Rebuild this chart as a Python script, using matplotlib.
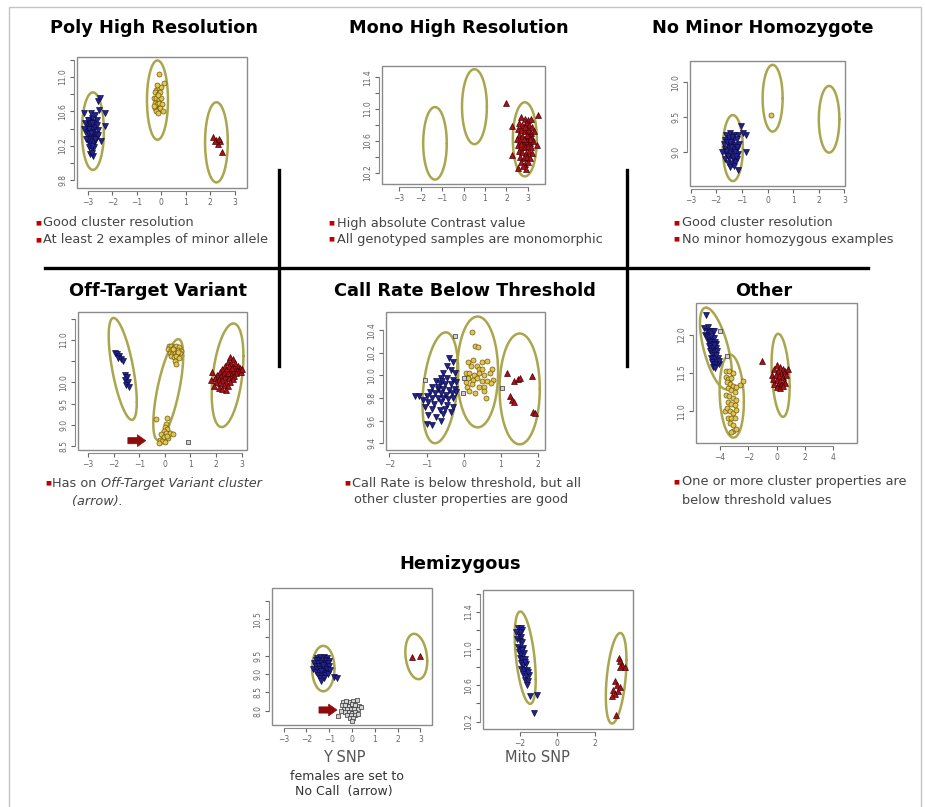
import numpy as np
import matplotlib
matplotlib.use("Agg")
import matplotlib.pyplot as plt
from matplotlib.patches import Rectangle
from matplotlib.lines import Line2D

# ---- cluster data (x = contrast, y = size) --------------------------------
poly_blue = [(-3.05, 10.45), (-2.95, 10.50), (-2.85, 10.52), (-2.75, 10.48), (-2.65, 10.50),
             (-3.10, 10.38), (-3.00, 10.40), (-2.90, 10.42), (-2.80, 10.40), (-2.70, 10.42),
             (-2.60, 10.38), (-3.05, 10.32), (-2.95, 10.34), (-2.85, 10.30), (-2.75, 10.33),
             (-2.65, 10.30), (-3.00, 10.26), (-2.90, 10.24), (-2.80, 10.22), (-2.70, 10.25),
             (-2.95, 10.18), (-2.85, 10.16), (-2.75, 10.18), (-2.90, 10.10), (-2.80, 10.08),
             (-2.85, 10.12), (-3.15, 10.58), (-3.18, 10.40), (-2.55, 10.62), (-2.60, 10.72),
             (-2.50, 10.75), (-2.30, 10.58), (-2.30, 10.43), (-2.45, 10.25), (-3.12, 10.46),
             (-2.72, 10.56), (-2.88, 10.58), (-2.98, 10.28), (-2.62, 10.44), (-2.78, 10.36),
             (-3.02, 10.50), (-2.92, 10.46), (-2.68, 10.34), (-2.82, 10.46), (-3.08, 10.28),
             (-2.95, 10.40), (-2.72, 10.28), (-2.88, 10.35), (-2.58, 10.32), (-2.82, 10.20)]
poly_yellow = [(-0.11, 11.03), (0.10, 10.93), (-0.20, 10.85), (-0.10, 10.87), (-0.25, 10.82),
               (-0.15, 10.80), (-0.05, 10.82), (-0.30, 10.76), (-0.20, 10.75), (-0.10, 10.74),
               (0.00, 10.76), (-0.28, 10.70), (-0.18, 10.68), (-0.08, 10.70), (0.02, 10.68),
               (-0.25, 10.64), (-0.15, 10.62), (-0.05, 10.64), (-0.22, 10.60), (-0.12, 10.58),
               (0.05, 10.60), (-0.30, 10.66), (-0.12, 10.79), (-0.02, 10.88), (-0.18, 10.90)]
poly_red = [(2.11, 10.30), (2.25, 10.27), (2.39, 10.25), (2.32, 10.22), (2.46, 10.13),
            (2.20, 10.26), (2.35, 10.28)]

mono_red = [(2.70, 10.90), (2.85, 10.88), (3.00, 10.86), (3.15, 10.88), (2.60, 10.82),
            (2.75, 10.80), (2.90, 10.82), (3.05, 10.80), (3.20, 10.78), (2.55, 10.75),
            (2.70, 10.74), (2.85, 10.72), (3.00, 10.74), (3.15, 10.70), (3.30, 10.72),
            (2.60, 10.68), (2.75, 10.66), (2.90, 10.64), (3.05, 10.66), (3.20, 10.64),
            (2.50, 10.62), (2.65, 10.60), (2.80, 10.58), (2.95, 10.60), (3.10, 10.58),
            (3.25, 10.60), (2.55, 10.55), (2.70, 10.53), (2.85, 10.52), (3.00, 10.54),
            (3.15, 10.52), (2.60, 10.48), (2.75, 10.46), (2.90, 10.45), (3.05, 10.47),
            (3.20, 10.45), (2.65, 10.40), (2.80, 10.38), (2.95, 10.40), (3.10, 10.38),
            (2.70, 10.33), (2.85, 10.31), (3.00, 10.33), (2.78, 10.28), (2.92, 10.25),
            (2.82, 10.62), (2.95, 10.68), (2.68, 10.56), (3.08, 10.62), (2.88, 10.77),
            (1.98, 11.07), (3.47, 10.93), (2.26, 10.43), (2.53, 10.26), (2.24, 10.79),
            (3.42, 10.55)]

nominor_blue = [(-1.60, 9.25), (-1.45, 9.27), (-1.30, 9.25), (-1.15, 9.24), (-1.65, 9.18),
                (-1.50, 9.20), (-1.35, 9.18), (-1.20, 9.19), (-1.70, 9.12), (-1.55, 9.12),
                (-1.40, 9.13), (-1.25, 9.11), (-1.10, 9.12), (-1.65, 9.05), (-1.50, 9.06),
                (-1.35, 9.04), (-1.20, 9.05), (-1.60, 8.98), (-1.45, 8.99), (-1.30, 8.97),
                (-1.15, 8.98), (-1.65, 8.91), (-1.50, 8.92), (-1.35, 8.90), (-1.20, 8.91),
                (-1.55, 8.85), (-1.40, 8.84), (-1.25, 8.86), (-1.45, 8.79), (-1.30, 8.80),
                (-1.58, 9.15), (-1.42, 9.08), (-1.28, 9.01), (-1.52, 8.95), (-1.38, 9.22),
                (-1.18, 9.08), (-1.62, 9.02), (-1.33, 8.93), (-1.48, 9.14), (-1.22, 8.95),
                (-1.05, 9.38), (-0.85, 9.25), (-0.82, 9.01), (-1.16, 8.75), (-0.95, 9.28),
                (-1.78, 9.00)]
nominor_yellow = [(0.15, 9.53)]

offtarget_blue = [(-1.95, 10.70), (-1.88, 10.68), (-1.80, 10.62), (-1.85, 10.58), (-1.72, 10.55),
                  (-1.65, 10.50), (-1.58, 10.17), (-1.50, 10.12), (-1.55, 10.05), (-1.45, 10.00),
                  (-1.52, 9.95), (-1.42, 9.90)]
offtarget_yellow = [(0.15, 10.85), (0.25, 10.87), (0.35, 10.84), (0.45, 10.86), (0.55, 10.83),
                    (0.12, 10.78), (0.22, 10.76), (0.32, 10.78), (0.42, 10.75), (0.52, 10.77),
                    (0.62, 10.74), (0.18, 10.70), (0.28, 10.68), (0.38, 10.70), (0.48, 10.67),
                    (0.58, 10.69), (0.25, 10.62), (0.35, 10.60), (0.45, 10.62), (0.55, 10.58),
                    (0.40, 10.50), (0.45, 10.44), (0.30, 10.80), (0.50, 10.72),
                    # the off-target group near the bottom
                    (-0.35, 9.15), (0.08, 9.17), (0.05, 9.02), (0.00, 8.95), (0.10, 8.90),
                    (-0.05, 8.85), (0.05, 8.82), (0.20, 8.80), (0.30, 8.78), (-0.15, 8.78),
                    (-0.05, 8.72), (0.12, 8.70), (-0.20, 8.65), (-0.10, 8.62), (0.00, 8.60),
                    (-0.25, 8.58), (0.08, 8.75)]
offtarget_nocall = [(0.90, 8.60)]
offtarget_red = [(2.55, 10.60), (2.65, 10.55), (2.45, 10.48), (2.60, 10.45), (2.75, 10.45),
                 (2.85, 10.40), (2.95, 10.35), (2.35, 10.40), (2.50, 10.38), (2.70, 10.35),
                 (2.80, 10.30), (2.90, 10.28), (2.25, 10.32), (2.40, 10.30), (2.55, 10.28),
                 (2.65, 10.25), (2.78, 10.22), (2.15, 10.25), (2.30, 10.22), (2.45, 10.20),
                 (2.60, 10.18), (2.72, 10.15), (1.85, 10.25), (2.05, 10.18), (2.20, 10.15),
                 (2.35, 10.12), (2.50, 10.10), (2.65, 10.08), (1.95, 10.10), (2.10, 10.08),
                 (2.25, 10.05), (2.40, 10.02), (2.55, 10.00), (2.00, 10.02), (2.15, 9.98),
                 (2.30, 9.95), (2.45, 9.92), (2.10, 9.88), (2.25, 9.85), (1.90, 9.92),
                 (2.38, 9.82), (2.98, 10.25), (3.00, 10.32), (1.82, 10.05), (2.62, 10.35),
                 (2.48, 10.22)]

callrate_blue = [(-0.40, 10.15), (-0.30, 10.12), (-0.45, 10.08), (-0.35, 10.05), (-0.55, 10.02),
                 (-0.25, 10.02), (-0.60, 9.98), (-0.45, 9.98), (-0.30, 9.96), (-0.75, 9.95),
                 (-0.65, 9.93), (-0.50, 9.92), (-0.35, 9.92), (-0.20, 9.94), (-0.85, 9.90),
                 (-0.70, 9.88), (-0.55, 9.88), (-0.40, 9.87), (-0.25, 9.88), (-0.90, 9.85),
                 (-0.78, 9.84), (-0.62, 9.84), (-0.48, 9.83), (-0.33, 9.84), (-0.20, 9.85),
                 (-1.00, 9.82), (-0.85, 9.80), (-0.70, 9.80), (-0.55, 9.80), (-0.42, 9.79),
                 (-0.28, 9.80), (-1.20, 9.82), (-1.30, 9.82), (-1.10, 9.78), (-0.95, 9.76),
                 (-0.80, 9.75), (-0.60, 9.76), (-0.45, 9.74), (-0.30, 9.72), (-1.05, 9.72),
                 (-0.85, 9.70), (-0.65, 9.69), (-0.50, 9.70), (-0.35, 9.68), (-0.95, 9.65),
                 (-0.75, 9.63), (-0.55, 9.66), (-0.60, 9.60), (-0.85, 9.56), (-1.00, 9.57),
                 (-0.70, 9.90), (-0.58, 9.95)]
callrate_yellow = [(0.22, 10.38), (0.30, 10.26), (0.38, 10.25), (0.10, 10.12), (0.25, 10.14),
                   (0.48, 10.12), (0.62, 10.13), (0.20, 10.08), (0.35, 10.08), (0.42, 10.06),
                   (0.50, 10.06), (0.75, 10.06), (0.05, 10.02), (0.15, 10.02), (0.28, 10.00),
                   (0.40, 10.02), (0.55, 10.00), (0.70, 10.02), (0.12, 9.98), (0.25, 9.96),
                   (0.35, 9.98), (0.48, 9.95), (0.62, 9.95), (0.78, 9.96), (0.08, 9.90),
                   (0.22, 9.92), (0.40, 9.90), (0.55, 9.90), (0.72, 9.93), (0.15, 9.86),
                   (0.30, 9.84), (0.55, 9.86), (0.05, 9.94), (0.60, 9.80), (0.10, 9.98)]
callrate_red = [(1.15, 10.02), (1.35, 9.95), (1.45, 9.97), (1.52, 9.98), (1.82, 9.99),
                (1.25, 9.82), (1.30, 9.78), (1.35, 9.76), (1.85, 9.68), (1.90, 9.67)]
callrate_nocall = [(-0.23, 10.35), (-1.04, 9.96), (0.00, 9.98), (-0.02, 9.84), (1.03, 9.89)]

other_blue = [(-5.00, 12.25), (-5.10, 12.08), (-4.95, 12.05), (-4.80, 12.05), (-4.60, 12.05),
              (-4.40, 12.04), (-5.05, 12.00), (-4.90, 11.98), (-4.75, 11.97), (-4.55, 11.96),
              (-4.40, 11.95), (-4.85, 11.92), (-4.70, 11.90), (-4.55, 11.88), (-4.35, 11.90),
              (-4.25, 11.88), (-4.80, 11.85), (-4.65, 11.83), (-4.50, 11.82), (-4.30, 11.83),
              (-4.70, 11.78), (-4.55, 11.76), (-4.40, 11.76), (-4.20, 11.78), (-4.65, 11.70),
              (-4.50, 11.70), (-4.35, 11.68), (-4.15, 11.70), (-4.60, 11.64), (-4.45, 11.62),
              (-4.30, 11.62), (-4.50, 11.58), (-4.35, 11.57), (-4.05, 11.62), (-4.10, 11.66),
              (-4.25, 11.74), (-4.45, 11.86), (-4.62, 11.98), (-4.85, 12.10)]
other_yellow = [(-3.55, 11.52), (-3.35, 11.52), (-3.10, 11.50), (-3.60, 11.45), (-3.40, 11.42),
                (-3.20, 11.44), (-2.40, 11.40), (-2.55, 11.35), (-3.50, 11.38), (-3.30, 11.36),
                (-3.10, 11.33), (-3.45, 11.30), (-3.20, 11.28), (-2.95, 11.25), (-2.85, 11.32),
                (-3.55, 11.22), (-3.35, 11.20), (-3.10, 11.18), (-2.90, 11.15), (-3.40, 11.12),
                (-3.20, 11.10), (-2.95, 11.08), (-3.65, 11.00), (-3.50, 11.05), (-3.30, 11.00),
                (-3.10, 10.98), (-2.85, 11.02), (-3.40, 10.92), (-3.20, 10.92), (-2.95, 10.92),
                (-3.30, 10.85), (-3.10, 10.83), (-3.05, 10.75), (-2.90, 10.77), (-3.20, 10.73)]
other_red = [(-1.04, 11.65), (0.00, 11.60), (0.25, 11.58), (0.45, 11.55), (-0.20, 11.55),
             (0.10, 11.52), (0.35, 11.50), (0.60, 11.52), (-0.30, 11.48), (-0.05, 11.47),
             (0.20, 11.46), (0.45, 11.45), (0.70, 11.47), (-0.25, 11.42), (0.00, 11.41),
             (0.25, 11.40), (0.50, 11.40), (-0.15, 11.36), (0.10, 11.35), (0.35, 11.35),
             (0.60, 11.37), (0.00, 11.32), (0.25, 11.31), (0.45, 11.33), (0.80, 11.55)]
other_nocall = [(-3.50, 11.72), (-4.00, 12.05)]

ysnp_blue = [(-1.55, 9.45), (-1.40, 9.47), (-1.25, 9.46), (-1.10, 9.45), (-1.60, 9.38),
             (-1.45, 9.38), (-1.30, 9.37), (-1.15, 9.38), (-1.00, 9.36), (-1.65, 9.30),
             (-1.50, 9.29), (-1.35, 9.30), (-1.20, 9.28), (-1.05, 9.30), (-1.60, 9.22),
             (-1.45, 9.21), (-1.30, 9.22), (-1.15, 9.20), (-1.00, 9.21), (-1.70, 9.14),
             (-1.55, 9.13), (-1.40, 9.14), (-1.25, 9.12), (-1.10, 9.13), (-1.60, 9.06),
             (-1.45, 9.05), (-1.30, 9.06), (-1.15, 9.04), (-1.50, 8.98), (-1.35, 8.97),
             (-1.20, 8.98), (-1.05, 8.99), (-1.40, 8.90), (-1.25, 8.89), (-1.35, 8.80),
             (-0.80, 8.92), (-0.65, 8.90), (-0.95, 9.10), (-1.28, 9.26), (-1.38, 9.09)]
ysnp_red = [(2.64, 9.47), (2.98, 9.50)]
ysnp_nocall = [(-0.40, 8.25), (-0.25, 8.27), (-0.10, 8.24), (0.05, 8.26), (0.20, 8.28),
               (-0.45, 8.15), (-0.30, 8.16), (-0.15, 8.14), (0.00, 8.17), (0.15, 8.15),
               (0.30, 8.13), (-0.35, 8.05), (-0.20, 8.06), (-0.05, 8.04), (0.10, 8.06),
               (0.25, 8.05), (0.38, 8.10), (-0.50, 7.98), (-0.30, 7.96), (-0.15, 7.97),
               (0.00, 7.95), (0.15, 7.96), (-0.20, 7.88), (-0.05, 7.87), (0.12, 7.88),
               (0.25, 7.90), (-0.10, 7.80), (0.05, 7.79), (0.00, 7.72), (-0.63, 7.85)]

mito_blue = [(-2.10, 11.22), (-1.95, 11.22), (-1.85, 11.20), (-2.05, 11.15), (-1.90, 11.13),
             (-2.15, 11.10), (-2.00, 11.08), (-1.85, 11.07), (-2.10, 11.02), (-1.95, 11.00),
             (-1.80, 11.01), (-2.05, 10.96), (-1.90, 10.94), (-1.75, 10.95), (-2.00, 10.90),
             (-1.85, 10.88), (-1.70, 10.89), (-1.95, 10.84), (-1.80, 10.82), (-1.65, 10.83),
             (-1.90, 10.78), (-1.75, 10.76), (-1.60, 10.77), (-1.80, 10.72), (-1.65, 10.70),
             (-1.50, 10.71), (-1.70, 10.66), (-1.55, 10.65), (-1.62, 10.60), (-1.85, 10.98),
             (-1.72, 10.85), (-1.98, 11.18), (-2.18, 11.18), (-1.58, 10.74),
             (-1.43, 10.48), (-1.08, 10.49), (-1.26, 10.29)]
mito_red = [(3.25, 10.90), (3.32, 10.86), (3.40, 10.82), (3.55, 10.80), (3.28, 10.80),
            (3.05, 10.64), (3.15, 10.60), (3.30, 10.58), (3.20, 10.54), (2.95, 10.55),
            (3.05, 10.50), (2.88, 10.48), (3.10, 10.27)]

# cluster ellipses: centre x, centre y, half width, half height, correlation
poly_ellipses = [(-2.80, 10.37, 0.45, 0.45, 0.0), (-0.16, 10.73, 0.43, 0.46, 0.0),
                 (2.25, 10.24, 0.465, 0.465, 0.0)]
mono_ellipses = [(-1.33, 10.57, 0.55, 0.455, 0.0), (0.51, 11.03, 0.58, 0.47, 0.0),
                 (2.86, 10.62, 0.56, 0.465, 0.0)]
nominor_ellipses = [(-1.35, 9.06, 0.39, 0.47, 0.0), (0.20, 9.77, 0.39, 0.475, 0.0),
                    (2.40, 9.47, 0.40, 0.475, 0.0)]
offtarget_ellipses = [(-1.65, 10.32, 0.55, 1.20, -0.65), (0.13, 9.83, 0.585, 1.19, 0.67),
                      (2.45, 10.17, 0.62, 1.22, 0.37)]
callrate_ellipses = [(-0.63, 9.89, 0.48, 0.49, 0.3), (0.37, 10.03, 0.55, 0.49, 0.0),
                     (1.50, 9.88, 0.54, 0.49, 0.0)]
other_ellipses = [(-4.29, 11.82, 1.13, 0.53, -0.62), (-3.17, 11.20, 0.86, 0.54, -0.14),
                  (0.29, 11.47, 0.64, 0.54, -0.27)]
ysnp_ellipses = [(-1.26, 9.15, 0.49, 0.62, 0.0), (2.82, 9.48, 0.48, 0.62, -0.2)]
mito_ellipses = [(-1.70, 10.90, 0.555, 0.505, -0.47), (3.10, 10.675, 0.545, 0.495, 0.4)]

W, H = 925, 807

BLUE, BLUE_EDGE = "#23238f", "#0b0b45"
YELLOW, YELLOW_EDGE = "#e2c54a", "#6a5818"
RED, RED_EDGE = "#ad0f1a", "#430000"
GRAY, GRAY_EDGE = "#d2d2d2", "#333333"
ELLIPSE = "#aaa64f"
BOX = "#8a8a8a"
TICK = "#666666"
TEXT = "#444444"
BULLET = "#c00000"
ARROW = "#8e0b0b"
BODY_SIZE = 9.3


def fx(x):
    return x / W


def fy(y):
    return 1 - y / H


def px_axes(fig, x0, y0, x1, y1):
    return fig.add_axes([x0 / W, 1 - y1 / H, (x1 - x0) / W, (y1 - y0) / H])


def fmt(v):
    s = f"{v:.1f}" if abs(v - round(v)) > 1e-9 or abs(v) > 5 else f"{int(round(v))}"
    return s.replace("-", "\u2212")


def style_axes(ax, xlim, ylim, xticks, yticks, ylabeled):
    ax.set_xlim(xlim)
    ax.set_ylim(ylim)
    ax.set_facecolor("white")
    ax.spines["top"].set_visible(False)
    ax.spines["right"].set_visible(False)
    for side in ("left", "bottom"):
        ax.spines[side].set_position(("outward", 2))
        ax.spines[side].set_color(BOX)
        ax.spines[side].set_linewidth(0.8)
    ax.spines["bottom"].set_bounds(xticks[0], xticks[-1])
    ax.spines["left"].set_bounds(yticks[0], yticks[-1])
    ax.add_patch(Rectangle((0, 0), 1, 1, transform=ax.transAxes, fill=False,
                           ec=BOX, lw=1.0, clip_on=False, zorder=6))
    ax.set_xticks(xticks)
    ax.set_xticklabels([fmt(t) for t in xticks])
    ax.set_yticks(yticks)
    ax.set_yticklabels([f"{t:.1f}" if any(abs(t - l) < 1e-6 for l in ylabeled) else ""
                        for t in yticks], rotation=90, va="center")
    ax.tick_params(length=3, width=0.8, color=TICK, labelcolor=TICK,
                   labelsize=5.5, pad=2)


def draw_ellipses(ax, ellipses):
    t = np.linspace(0, 2 * np.pi, 200)
    for cx, cy, sx, sy, r in ellipses:
        x = cx + sx * np.cos(t)
        y = cy + sy * (r * np.cos(t) + np.sqrt(1 - r * r) * np.sin(t))
        ax.plot(x, y, color=ELLIPSE, lw=1.8, zorder=2, solid_capstyle="round")


def draw_points(ax, pts, kind):
    pts = np.array(pts)
    styles = {
        "AA": dict(marker="v", c=BLUE, edgecolors=BLUE_EDGE, s=18),
        "AB": dict(marker="o", c=YELLOW, edgecolors=YELLOW_EDGE, s=13),
        "BB": dict(marker="^", c=RED, edgecolors=RED_EDGE, s=18),
        "NC": dict(marker="s", c=GRAY, edgecolors=GRAY_EDGE, s=10),
    }
    ax.scatter(pts[:, 0], pts[:, 1], linewidths=0.5, zorder=3, **styles[kind])


def call_arrow(ax, tail, tip):
    ax.annotate("", xy=tip, xytext=tail,
                arrowprops=dict(arrowstyle="simple,head_length=0.6,head_width=0.85,tail_width=0.45",
                                fc=ARROW, ec=ARROW, lw=0.5, shrinkA=0, shrinkB=0))


def bullet_lines(fig, x, lines, first_y, step):
    fig.text(fx(x), fy(first_y), "\u25a0", fontsize=4.5, color=BULLET, va="center", ha="left")
    for i, (dx, txt) in enumerate(lines):
        fig.text(fx(x + dx), fy(first_y + i * step), txt, fontsize=BODY_SIZE,
                 color=TEXT, va="center", ha="left")


fig = plt.figure(figsize=(W / 100, H / 100), dpi=100)
fig.patch.set_facecolor("white")

# page frame and section dividers
fig.add_artist(Rectangle((fx(9), fy(830)), fx(921 - 9), (830 - 7) / H,
                         fill=False, ec="#c4c4c4", lw=1.0, transform=fig.transFigure))
fig.add_artist(Line2D([fx(45), fx(868)], [fy(268), fy(268)], color="black", lw=2.4))
fig.add_artist(Line2D([fx(279), fx(279)], [fy(170), fy(366)], color="black", lw=2.4))
fig.add_artist(Line2D([fx(627), fx(627)], [fy(170), fy(366)], color="black", lw=2.4))

title_kw = dict(fontsize=12.8, fontweight="bold", color="black", ha="center", va="center")
fig.text(fx(154), fy(28), "Poly High Resolution", **title_kw)
fig.text(fx(459), fy(28), "Mono High Resolution", **title_kw)
fig.text(fx(763), fy(28), "No Minor Homozygote", **title_kw)
fig.text(fx(158), fy(291), "Off-Target Variant", **title_kw)
fig.text(fx(465), fy(291), "Call Rate Below Threshold", **title_kw)
fig.text(fx(764), fy(291), "Other", **title_kw)
fig.text(fx(460), fy(564), "Hemizygous", **title_kw)

# Poly High Resolution
ax = px_axes(fig, 77, 57, 247, 188)
style_axes(ax, (-3.45, 3.5), (9.71, 11.23), list(range(-3, 4)),
           list(np.round(np.arange(9.8, 11.21, 0.2), 1)), [9.8, 10.2, 10.6, 11.0])
draw_ellipses(ax, poly_ellipses)
draw_points(ax, poly_blue, "AA")
draw_points(ax, poly_yellow, "AB")
draw_points(ax, poly_red, "BB")

# Mono High Resolution
ax = px_axes(fig, 382, 66, 545, 184)
style_axes(ax, (-3.8, 3.8), (10.06, 11.54), list(range(-3, 4)),
           list(np.round(np.arange(10.2, 11.41, 0.2), 1)), [10.2, 10.6, 11.0, 11.4])
draw_ellipses(ax, mono_ellipses)
draw_points(ax, mono_red, "BB")

# No Minor Homozygote
ax = px_axes(fig, 690, 61, 845, 186)
style_axes(ax, (-3.02, 3.02), (8.52, 10.3), list(range(-3, 4)),
           [9.0, 9.5, 10.0], [9.0, 9.5, 10.0])
draw_ellipses(ax, nominor_ellipses)
draw_points(ax, nominor_blue, "AA")
draw_points(ax, nominor_yellow, "AB")

# Off-Target Variant
ax = px_axes(fig, 78, 312, 247, 450)
style_axes(ax, (-3.4, 3.21), (8.41, 11.66), list(range(-3, 4)),
           list(np.round(np.arange(8.5, 11.51, 0.5), 1)), [8.5, 9.0, 9.5, 10.0, 11.0])
draw_ellipses(ax, offtarget_ellipses)
draw_points(ax, offtarget_blue, "AA")
draw_points(ax, offtarget_yellow, "AB")
draw_points(ax, offtarget_red, "BB")
draw_points(ax, offtarget_nocall, "NC")
call_arrow(ax, (-1.45, 8.63), (-0.75, 8.63))

# Call Rate Below Threshold
ax = px_axes(fig, 386, 312, 545, 450)
style_axes(ax, (-2.09, 2.18), (9.34, 10.56), list(range(-2, 3)),
           list(np.round(np.arange(9.4, 10.41, 0.2), 1)), [9.4, 9.6, 9.8, 10.0, 10.2, 10.4])
draw_ellipses(ax, callrate_ellipses)
draw_points(ax, callrate_blue, "AA")
draw_points(ax, callrate_yellow, "AB")
draw_points(ax, callrate_red, "BB")
draw_points(ax, callrate_nocall, "NC")

# Other
ax = px_axes(fig, 696, 303, 857, 443)
style_axes(ax, (-5.7, 5.7), (10.59, 12.41), [-4, -2, 0, 2, 4],
           [11.0, 11.5, 12.0], [11.0, 11.5, 12.0])
draw_ellipses(ax, other_ellipses)
draw_points(ax, other_blue, "AA")
draw_points(ax, other_yellow, "AB")
draw_points(ax, other_red, "BB")
draw_points(ax, other_nocall, "NC")

# Hemizygous: Y SNP
ax = px_axes(fig, 272, 588, 432, 725)
style_axes(ax, (-3.51, 3.51), (7.61, 11.35), list(range(-3, 4)),
           list(np.round(np.arange(8.0, 11.01, 0.5), 1)), [8.0, 8.5, 9.0, 9.5, 10.5])
draw_ellipses(ax, ysnp_ellipses)
draw_points(ax, ysnp_blue, "AA")
draw_points(ax, ysnp_red, "BB")
draw_points(ax, ysnp_nocall, "NC")
call_arrow(ax, (-1.45, 8.02), (-0.66, 8.02))

# Hemizygous: Mito SNP
ax = px_axes(fig, 483, 590, 633, 729)
style_axes(ax, (-3.93, 3.99), (10.12, 11.64), [-2, 0, 2],
           list(np.round(np.arange(10.2, 11.61, 0.2), 1)), [10.2, 10.6, 11.0, 11.4])
draw_ellipses(ax, mito_ellipses)
draw_points(ax, mito_blue, "AA")
draw_points(ax, mito_red, "BB")

# descriptions under each plot
bullet_lines(fig, 35, [(8, "Good cluster resolution")], 223, 17)
bullet_lines(fig, 35, [(8, "At least 2 examples of minor allele")], 240, 17)
bullet_lines(fig, 328, [(9, "High absolute Contrast value")], 223, 17)
bullet_lines(fig, 328, [(9, "All genotyped samples are monomorphic")], 239, 17)
bullet_lines(fig, 673, [(9, "Good cluster resolution")], 223, 17)
bullet_lines(fig, 673, [(9, "No minor homozygous examples")], 239, 17)

fig.text(fx(45), fy(483), "\u25a0", fontsize=4.5, color=BULLET, va="center", ha="left")
has_on = fig.text(fx(52), fy(483), "Has on ", fontsize=BODY_SIZE, color=TEXT,
                  va="center", ha="left")
renderer = fig.canvas.get_renderer()
bb = has_on.get_window_extent(renderer=renderer)
fig.text(bb.x1 / W, fy(483), "Off-Target Variant cluster", fontsize=BODY_SIZE, color=TEXT,
         style="italic", va="center", ha="left")
fig.text(fx(72), fy(501), "(arrow).", fontsize=BODY_SIZE, color=TEXT, style="italic",
         va="center", ha="left")

bullet_lines(fig, 344, [(8, "Call Rate is below threshold, but all"),
                        (10, "other cluster properties are good")], 483, 17)
bullet_lines(fig, 673, [(9, "One or more cluster properties are"),
                        (9, "below threshold values")], 482, 19)

fig.text(fx(344), fy(758), "Y SNP", fontsize=10.5, color="#555555", ha="center", va="center")
fig.text(fx(347), fy(776), "females are set to", fontsize=9.0, color="#333333",
         ha="center", va="center")
fig.text(fx(344), fy(791), "No Call  (arrow)", fontsize=9.0, color="#333333",
         ha="center", va="center")
fig.text(fx(537), fy(758), "Mito SNP", fontsize=10.5, color="#555555", ha="center", va="center")

fig.savefig("out.png", dpi=100, facecolor="white")
